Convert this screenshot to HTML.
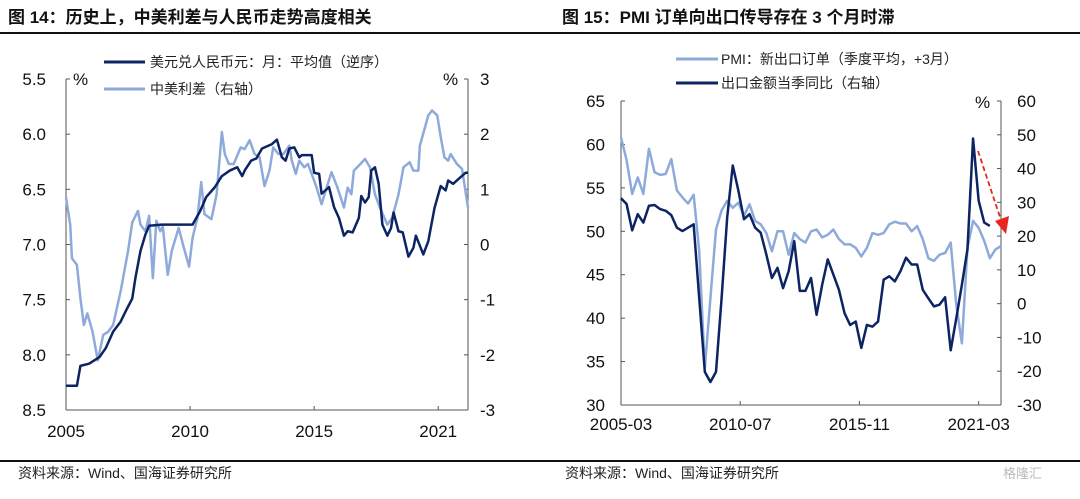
<!DOCTYPE html>
<html><head><meta charset="utf-8">
<style>
body{margin:0;background:#fff;width:1080px;height:494px;overflow:hidden;font-family:"Liberation Sans","Noto Sans CJK SC",sans-serif}
svg text{font-family:"Liberation Sans","Noto Sans CJK SC",sans-serif}
</style></head><body>
<svg width="1080" height="494">
<text x="8" y="23" font-size="17" font-weight="bold" fill="#111">图 14：历史上，中美利差与人民币走势高度相关</text>
<text x="562" y="23" font-size="17" font-weight="bold" fill="#111">图 15：PMI 订单向出口传导存在 3 个月时滞</text>
<line x1="0" y1="33" x2="1080" y2="33" stroke="#111" stroke-width="2"/>
<line x1="0" y1="461" x2="1080" y2="461" stroke="#111" stroke-width="2"/>
<text x="18" y="478" font-size="14" fill="#222">资料来源：Wind、国海证券研究所</text>
<text x="565" y="478" font-size="14" fill="#222">资料来源：Wind、国海证券研究所</text>
<text x="1003" y="478" font-size="13" fill="#bbb">格隆汇</text>
<g id="left"></g>
<g id="right"></g>
</svg>
<script>
// ---------- Left chart data ----------
const cnyYears=[2005.0,2005.44,2005.58,2005.93,2006.35,2006.6,2006.9,2007.2,2007.46,2007.67,2007.8,2008.0,2008.2,2008.35,2008.85,2010.1,2010.4,2010.65,2011.0,2011.28,2011.6,2011.9,2012.1,2012.2,2012.46,2012.67,2012.9,2013.3,2013.5,2013.7,2013.85,2014.0,2014.2,2014.4,2014.5,2014.9,2015.0,2015.2,2015.3,2015.6,2015.8,2016.0,2016.2,2016.35,2016.55,2016.8,2016.9,2017.05,2017.2,2017.3,2017.45,2017.6,2017.75,2017.95,2018.1,2018.2,2018.4,2018.57,2018.8,2019.0,2019.1,2019.4,2019.6,2019.85,2020.1,2020.3,2020.4,2020.6,2020.9,2021.1,2021.2];
const cnyValues=[8.28,8.28,8.10,8.08,8.02,7.94,7.79,7.70,7.58,7.49,7.30,7.06,6.91,6.83,6.82,6.82,6.70,6.57,6.48,6.38,6.33,6.30,6.38,6.33,6.24,6.22,6.13,6.09,6.05,6.21,6.24,6.13,6.12,6.21,6.19,6.19,6.35,6.36,6.54,6.48,6.66,6.76,6.92,6.88,6.89,6.76,6.56,6.62,6.57,6.33,6.30,6.45,6.82,6.92,6.85,6.71,6.88,6.89,7.11,7.03,6.92,7.09,6.97,6.67,6.47,6.51,6.42,6.45,6.39,6.35,6.35];
const spreadYears=[2005.0,2005.17,2005.24,2005.44,2005.58,2005.72,2005.86,2006.07,2006.28,2006.5,2006.7,2006.9,2007.2,2007.5,2007.67,2007.9,2008.0,2008.2,2008.35,2008.5,2008.64,2008.8,2008.9,2009.1,2009.26,2009.54,2009.75,2009.96,2010.1,2010.3,2010.45,2010.58,2010.86,2011.07,2011.28,2011.4,2011.56,2011.76,2012.04,2012.2,2012.4,2012.6,2012.8,2013.0,2013.2,2013.35,2013.56,2013.76,2014.0,2014.1,2014.26,2014.4,2014.6,2014.75,2014.9,2015.1,2015.3,2015.5,2015.7,2015.94,2016.2,2016.35,2016.5,2016.6,2016.8,2017.05,2017.25,2017.45,2017.65,2017.95,2018.15,2018.4,2018.6,2018.85,2019.0,2019.2,2019.26,2019.47,2019.6,2019.75,2019.96,2020.1,2020.25,2020.4,2020.5,2020.75,2020.96,2021.2];
const spreadValues=[0.85,0.36,-0.25,-0.37,-0.97,-1.46,-1.25,-1.58,-2.10,-1.64,-1.58,-1.46,-0.85,-0.12,0.40,0.61,0.36,0.24,0.52,-0.61,0.43,0.24,0.33,-0.55,-0.12,0.30,-0.06,-0.40,0.12,0.49,1.13,0.55,0.46,0.91,2.04,1.64,1.46,1.46,1.76,1.73,1.89,1.64,1.58,1.06,1.34,1.76,1.64,1.64,1.79,1.52,1.28,1.52,1.40,1.46,1.28,1.03,0.73,1.03,1.31,1.03,0.67,1.03,0.91,1.34,1.43,1.55,1.40,0.91,0.67,0.36,0.49,0.91,1.40,1.49,1.34,1.34,1.79,2.13,2.34,2.43,2.34,1.95,1.58,1.52,1.64,1.46,1.37,0.67];
const leftTicks=["5.5","6.0","6.5","7.0","7.5","8.0","8.5"];
const rightTicksL=["3","2","1","0","-1","-2","-3"];
const xTickYears=[2005,2010,2015,2020];
const xTickLabels=["2005","2010","2015","2021"];

// ---------- Right chart data ----------
const pmiValues=[60.8,58.2,54.3,56.2,54.3,59.5,56.8,56.5,56.6,58.3,54.7,53.9,53.2,54.2,47.7,34.2,42.3,50.2,52.4,53.5,52.7,53.3,51.8,53.1,51.2,50.8,49.8,47.7,50.0,50.0,47.3,49.8,49.1,48.7,50.0,50.2,49.3,49.6,50.2,49.1,48.5,48.5,48.1,47.1,48.1,49.8,49.6,49.8,50.8,51.1,50.9,50.9,50.0,50.6,49.1,46.9,46.6,47.3,47.5,48.7,41.5,37.1,48.1,51.2,50.4,48.9,46.9,47.9,48.3];
const exportValues=[31.2,29.5,21.7,26.5,24.0,29.0,29.2,28.0,27.5,26.2,22.5,21.5,22.5,23.5,1.6,-20.2,-23.2,-20.2,1.6,25.5,40.9,33.5,25.0,26.5,22.5,21.0,14.6,7.6,10.6,4.6,9.6,18.5,3.8,3.8,7.6,-3.3,5.6,13.1,8.6,4.1,-2.8,-6.3,-5.3,-13.1,-6.3,-6.8,-5.3,7.1,8.1,6.6,9.6,13.6,11.6,11.6,4.1,1.6,-0.8,-0.3,1.9,-13.8,-4.3,5.6,16.1,48.9,30.5,24.0,23.0];
const pmiTicks=["65","60","55","50","45","40","35","30"];
const expTicks=["60","50","40","30","20","10","0","-10","-20","-30"];
const qTickIdx=[0,64,128,192];
const qTickLabels=["2005-03","2010-07","2015-11","2021-03"];

const NS="http://www.w3.org/2000/svg";
function mk(parent,tag,attrs,text){const e=document.createElementNS(NS,tag);for(const k in attrs)e.setAttribute(k,attrs[k]);if(text!==undefined)e.textContent=text;parent.appendChild(e);return e;}
const DARK="#0d2463",LIGHT="#8eaadb";

// Left chart
(function(){
  const g=document.getElementById('left');
  const x0=66,x1=468,yT=79,yB=410;
  const xs=y=>x0+(y-2005)/(2021.2-2005)*(x1-x0);
  const yl=v=>yT+(v-5.5)/3*(yB-yT);
  const yr=v=>yT+(3-v)/6*(yB-yT);
  let e=mk(g,'line',{x1:x0,y1:yT,x2:x0,y2:yB,stroke:'#555'});
  
  e=mk(g,'line',{x1:x1,y1:yT,x2:x1,y2:yB,stroke:'#555'});
  
  e=mk(g,'line',{x1:x0,y1:yB,x2:x1,y2:yB,stroke:'#555'});
  
  leftTicks.forEach((t,i)=>{const y=yT+i*(yB-yT)/6;
    mk(g,'line',{x1:x0,y1:y,x2:x0+4,y2:y,stroke:'#555'});
    e=mk(g,'text',{x:46,y:y+6,'font-size':17,'text-anchor':'end',fill:'#111'},t);
    });
  rightTicksL.forEach((t,i)=>{const y=yT+i*(yB-yT)/6;
    mk(g,'line',{x1:x1-4,y1:y,x2:x1,y2:y,stroke:'#555'});
    e=mk(g,'text',{x:480,y:y+6,'font-size':17,fill:'#111'},t);
    });
  xTickYears.forEach((yv,i)=>{const x=xs(yv);
    mk(g,'line',{x1:x,y1:yB,x2:x,y2:yB-4,stroke:'#555'});
    e=mk(g,'text',{x:x,y:yB+27,'font-size':17,'text-anchor':'middle',fill:'#111'},xTickLabels[i]);
    });
  e=mk(g,'text',{x:73,y:85,'font-size':17,fill:'#111'},'%');
  e=mk(g,'text',{x:443,y:85,'font-size':17,fill:'#111'},'%');
  e=mk(g,'polyline',{points:spreadYears.map((y,i)=>xs(y)+','+yr(spreadValues[i])).join(' '),fill:'none',stroke:LIGHT,'stroke-width':2.5,'stroke-linejoin':'round'});
  
  e=mk(g,'polyline',{points:cnyYears.map((y,i)=>xs(y)+','+yl(cnyValues[i])).join(' '),fill:'none',stroke:DARK,'stroke-width':2.5,'stroke-linejoin':'round'});
  
  e=mk(g,'line',{x1:104,y1:62,x2:145,y2:62,stroke:DARK,'stroke-width':3});
  e=mk(g,'text',{x:150,y:67,'font-size':14,fill:'#222'},'美元兑人民币元：月：平均值（逆序）');
  e=mk(g,'line',{x1:104,y1:89,x2:145,y2:89,stroke:LIGHT,'stroke-width':3});
  e=mk(g,'text',{x:150,y:94,'font-size':14,fill:'#222'},'中美利差（右轴）');
})();

// Right chart
(function(){
  const g=document.getElementById('right');
  const x0=621,x1=1001,yT=101,yB=405,nQ=68;
  const xq=i=>x0+i*(x1-x0)/nQ;
  const xm=m=>x0+m/3*(x1-x0)/nQ;
  const yl=v=>yT+(65-v)/35*(yB-yT);
  const yr=v=>yT+(60-v)/90*(yB-yT);
  let e=mk(g,'line',{x1:x0,y1:yT,x2:x0,y2:yB,stroke:'#555'});
  
  e=mk(g,'line',{x1:x1,y1:yT,x2:x1,y2:yB,stroke:'#555'});
  
  e=mk(g,'line',{x1:x0,y1:yB,x2:x1,y2:yB,stroke:'#555'});
  
  pmiTicks.forEach((t,i)=>{const y=yT+i*(yB-yT)/7;
    mk(g,'line',{x1:x0,y1:y,x2:x0+4,y2:y,stroke:'#555'});
    e=mk(g,'text',{x:605,y:y+6,'font-size':17,'text-anchor':'end',fill:'#111'},t);
    });
  expTicks.forEach((t,i)=>{const y=yT+i*(yB-yT)/9;
    mk(g,'line',{x1:x1-4,y1:y,x2:x1,y2:y,stroke:'#555'});
    e=mk(g,'text',{x:1017,y:y+6,'font-size':17,fill:'#111'},t);
    });
  qTickIdx.forEach((m,i)=>{const x=xm(m);
    mk(g,'line',{x1:x,y1:yB,x2:x,y2:yB-4,stroke:'#555'});
    e=mk(g,'text',{x:x,y:yB+25,'font-size':17,'text-anchor':'middle',fill:'#111'},qTickLabels[i]);
    });
  e=mk(g,'text',{x:975,y:108,'font-size':17,fill:'#111'},'%');
  e=mk(g,'polyline',{points:pmiValues.map((v,i)=>xq(i)+','+yl(v)).join(' '),fill:'none',stroke:LIGHT,'stroke-width':2.5,'stroke-linejoin':'round'});
  
  e=mk(g,'polyline',{points:exportValues.map((v,i)=>xq(i)+','+yr(v)).join(' '),fill:'none',stroke:DARK,'stroke-width':2.5,'stroke-linejoin':'round'});
  
  e=mk(g,'line',{x1:978,y1:151,x2:1001,y2:220,stroke:'#e8261c','stroke-width':1.8,'stroke-dasharray':'5,3'});
  
  e=mk(g,'polygon',{points:'995,221 1009,216 1006,234',fill:'#e8261c'});
  
  e=mk(g,'line',{x1:676,y1:59,x2:718,y2:59,stroke:LIGHT,'stroke-width':3});
  e=mk(g,'text',{x:721,y:64,'font-size':14,fill:'#222'},'PMI：新出口订单（季度平均，+3月）');
  e=mk(g,'line',{x1:676,y1:83,x2:718,y2:83,stroke:DARK,'stroke-width':3});
  e=mk(g,'text',{x:721,y:88,'font-size':14,fill:'#222'},'出口金额当季同比（右轴）');
})();
</script>
</body></html>
